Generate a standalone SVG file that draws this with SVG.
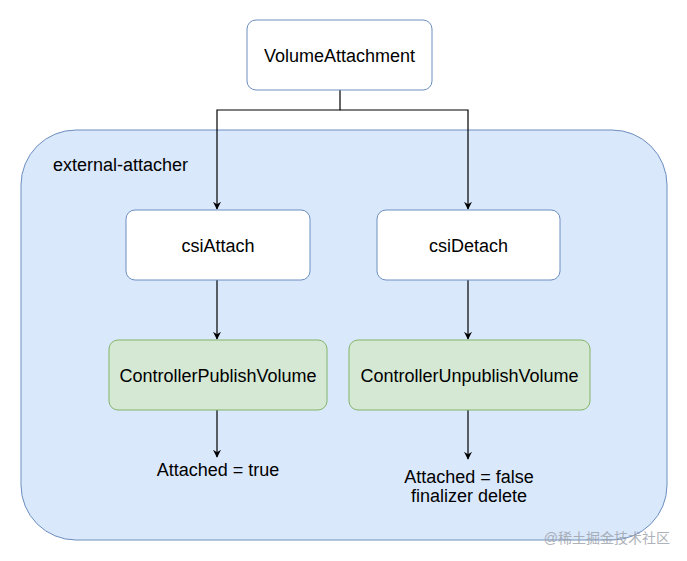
<svg xmlns="http://www.w3.org/2000/svg" width="687" height="561" viewBox="0 0 687 561">
<defs>
<style>
text{font-family:"Liberation Sans",Arial,sans-serif;font-size:18px;fill:#000}
.w{fill:#fff;stroke:#6c8ebf;stroke-width:1}
.g{fill:#d5e8d4;stroke:#82b366;stroke-width:1}
.c{fill:none;stroke:#000;stroke-width:1.2}
</style>
<marker id="ah" viewBox="0 0 10 10" refX="9" refY="5" markerWidth="8" markerHeight="8" markerUnits="userSpaceOnUse" orient="auto">
<path d="M0,0 L10,5 L0,10 L3,5 Z" fill="#000"/>
</marker>
</defs>
<rect width="687" height="561" fill="#fff"/>
<g id="external-attacher">
<rect x="21" y="130" width="646" height="410" rx="55" ry="55" fill="#dae8fc" stroke="#6c8ebf"/>
<text x="53" y="171">external-attacher</text>
</g>
<g id="connectors">
<path class="c" d="M340,90 V110 H217 V209" marker-end="url(#ah)"/>
<path class="c" d="M340,110 H468 V209" marker-end="url(#ah)"/>
<path class="c" d="M217,280 V339" marker-end="url(#ah)"/>
<path class="c" d="M468,280 V339" marker-end="url(#ah)"/>
<path class="c" d="M217,410 V457" marker-end="url(#ah)"/>
<path class="c" d="M468,410 V459" marker-end="url(#ah)"/>
</g>
<g id="VolumeAttachment">
<rect class="w" x="247" y="20" width="185" height="70" rx="9"/>
<text x="339.5" y="62" text-anchor="middle">VolumeAttachment</text>
</g>
<g id="csiAttach">
<rect class="w" x="126" y="210" width="184" height="70" rx="9"/>
<text x="218" y="252" text-anchor="middle">csiAttach</text>
</g>
<g id="csiDetach">
<rect class="w" x="377" y="210" width="183" height="70" rx="9"/>
<text x="468.5" y="252" text-anchor="middle">csiDetach</text>
</g>
<g id="ControllerPublishVolume">
<rect class="g" x="109" y="340" width="218" height="70" rx="9"/>
<text x="218" y="382" text-anchor="middle">ControllerPublishVolume</text>
</g>
<g id="ControllerUnpublishVolume">
<rect class="g" x="349" y="340" width="241" height="70" rx="9"/>
<text x="469.5" y="382" text-anchor="middle">ControllerUnpublishVolume</text>
</g>
<g id="attached-true">
<text x="218" y="476" text-anchor="middle">Attached = true</text>
</g>
<g id="attached-false">
<text x="469" y="483" text-anchor="middle">Attached = false</text>
<text x="469" y="502" text-anchor="middle">finalizer delete</text>
</g>
<text x="670" y="543" text-anchor="end" style="font-family:'Liberation Sans','Noto Sans CJK SC',sans-serif;font-size:14px;fill:#9aa0a8;opacity:0.8">@稀土掘金技术社区</text>
</svg>
